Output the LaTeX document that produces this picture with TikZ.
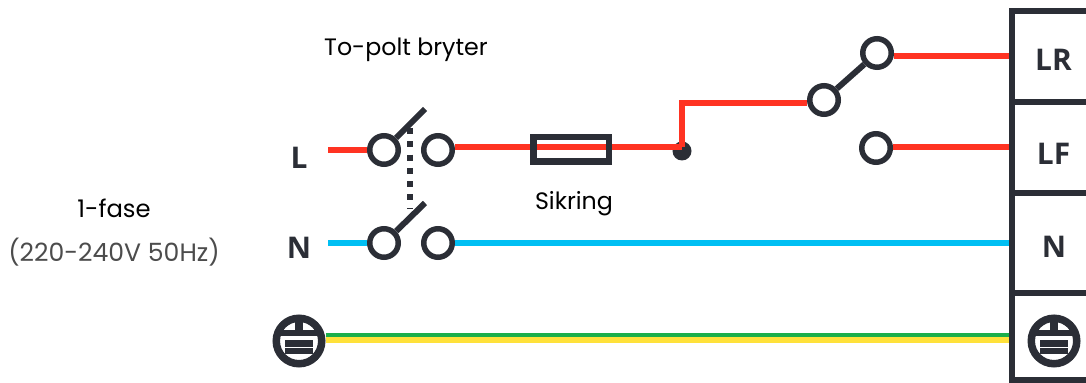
\documentclass[tikz,border=0pt]{standalone}
\usepackage{fontspec}
\setmainfont{Poppins}
\newfontfamily\labelfont{Open Sans}
\definecolor{darkline}{HTML}{2B2E36}
\definecolor{redwire}{HTML}{FF3322}
\definecolor{bluewire}{HTML}{00BFF3}
\definecolor{greenwire}{HTML}{1BAE4B}
\definecolor{yellowwire}{HTML}{FFE13A}
\tikzset{
  terminal/.style = {circle, draw = darkline, line width = 0.11cm, minimum size = 0.57cm, inner sep = 0pt},
  blade/.style = {draw = darkline, line width = 0.12cm},
  wirered/.style = {draw = redwire, line width = 0.13cm},
  wireblue/.style = {draw = bluewire, line width = 0.13cm},
  wiregreen/.style = {draw = greenwire, line width = 0.085cm},
  wireyellow/.style = {draw = yellowwire, line width = 0.13cm},
  plain/.style = {black, font = \fontsize{13.5}{15}\selectfont, inner sep = 0pt},
  pole/.style = {darkline, font = \labelfont\bfseries\fontsize{17}{19}\selectfont, inner sep = 0pt},
  earthring/.style = {circle, draw = darkline, line width = 0.15cm, minimum size = 0.91cm, inner sep = 0pt}
}
\begin{document}
\begin{tikzpicture} [scale = 1]
\useasboundingbox (0, 0) rectangle (21.72, 7.66);
% texts
\node[plain] (title) at (8.12, 6.66){To-polt bryter};
\node[plain] (fuselabel) at (11.48, 3.58){Sikring};
\node[plain, font = \fontsize{13.8}{15}\selectfont] (phase) at (2.28, 3.5){1-fase};
\node[plain, black!70, font = \fontsize{14.3}{16}\selectfont] (volt) at (2.28, 2.62){(220-240V 50Hz)};
\node[pole] (lblL) at (5.98, 4.5){L};
\node[pole] (lblN) at (5.98, 2.71){N};
\node[pole] (lblLR) at (21.07, 6.46){LR};
\node[pole] (lblLF) at (21.07, 4.59){LF};
\node[pole] (lblNb) at (21.08, 2.72){N};
% wire ends
\coordinate (startL) at (6.56, 4.66);
\coordinate (startN) at (6.56, 2.8);
\coordinate (bendL) at (13.64, 4.72);
\coordinate (bendtop) at (13.64, 5.6);
\coordinate (endLR) at (20.24, 6.54);
\coordinate (endLF) at (20.24, 4.72);
\coordinate (endN) at (20.24, 2.8);
\coordinate (endgreen) at (20.24, 0.96);
\coordinate (endyellow) at (20.24, 0.86);
\coordinate (tipL) at (8.5, 5.48);
\coordinate (tipN) at (8.5, 3.6);
\coordinate (linktop) at (8.2, 5.1);
\coordinate (linkbot) at (8.2, 3.5);
% earth symbols
\node[earthring] (earthA) at (5.98, 0.84){};
\node[earthring] (earthB) at (21.08, 0.84){};
\fill[darkline] (5.9, 1.0) rectangle (6.06, 1.3);
\fill[darkline] (5.58, 1.05) rectangle (6.38, 0.94);
\fill[darkline] (5.7, 0.86) rectangle (6.26, 0.72);
\fill[darkline] (5.7, 0.69) rectangle (6.26, 0.58);
\fill[darkline] (21.0, 1.0) rectangle (21.16, 1.3);
\fill[darkline] (20.68, 1.05) rectangle (21.48, 0.94);
\fill[darkline] (20.8, 0.86) rectangle (21.36, 0.72);
\fill[darkline] (20.8, 0.69) rectangle (21.36, 0.58);
% switches
\node[terminal] (swLa) at (7.68, 4.66){};
\node[terminal] (swLb) at (8.76, 4.66){};
\node[terminal] (swNa) at (7.68, 2.8){};
\node[terminal] (swNb) at (8.76, 2.8){};
\node[terminal] (swC) at (16.48, 5.66){};
\node[terminal] (swR) at (17.54, 6.6){};
\node[terminal] (swF) at (17.52, 4.7){};
\draw[blade] (swLa) -- (tipL);
\draw[blade] (swNa) -- (tipN);
\draw[blade] (swC) -- (swR);
\draw[darkline, line width = 0.13cm, dash pattern = on 0.12cm off 0.146cm] (linktop) -- (linkbot);
% wires
\node[circle, fill = darkline, minimum size = 0.38cm, inner sep = 0pt] (jointL) at (13.64, 4.64){};
\draw[wirered] (startL) -- (swLa);
\draw[wireblue] (startN) -- (swNa);
\draw[wirered] (swLb.east |- bendL) -- (bendL);
\draw[wirered] (bendL) -- (bendtop) -- (swC.west |- bendtop);
\draw[wirered] (swR.east |- endLR) -- (endLR);
\draw[wirered] (swF.east |- endLF) -- (endLF);
\draw[wireblue] (swNb) -- (endN);
\draw[wiregreen] (earthA.east |- endgreen) -- (endgreen);
\draw[wireyellow] (earthA.east |- endyellow) -- (endyellow);
% fuse
\node[draw = darkline, line width = 0.13cm, minimum width = 1.51cm, minimum height = 0.49cm, inner sep = 0pt] (fuse) at (11.42, 4.67){};
% terminal block
\draw[blade] (21.9, 7.44) -- (20.24, 7.44) -- (20.24, -0.1);
\draw[blade] (20.24, 5.62) -- (21.9, 5.62);
\draw[blade] (20.24, 3.8) -- (21.9, 3.8);
\draw[blade] (20.24, 1.8) -- (21.9, 1.8);
\draw[blade] (20.24, 0.06) -- (21.9, 0.06);
\end{tikzpicture}
\end{document}
